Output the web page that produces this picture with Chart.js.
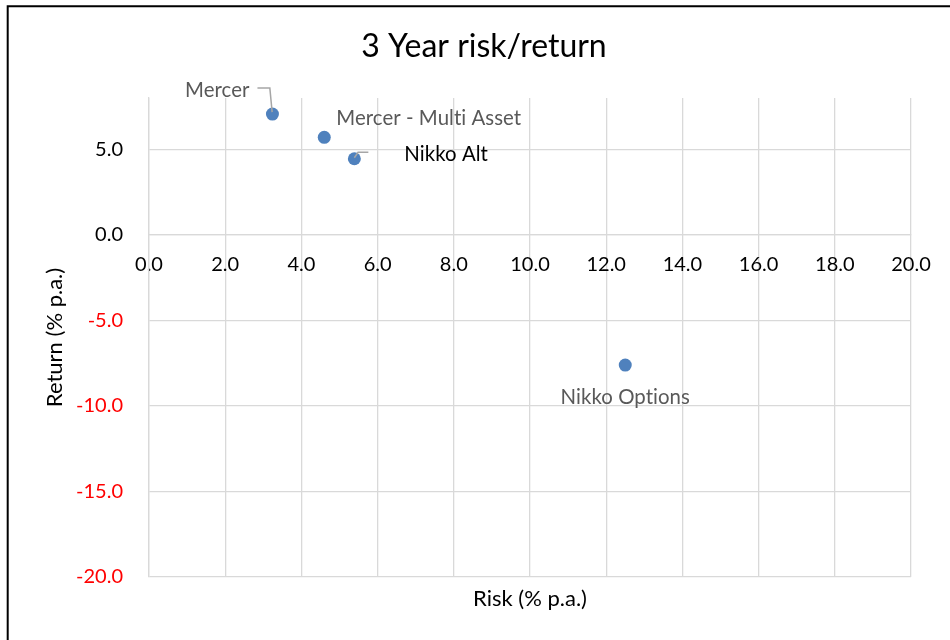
<!DOCTYPE html>
<html><head><meta charset="utf-8">
<script src="https://cdn.jsdelivr.net/npm/chart.js@4.4.0/dist/chart.umd.min.js"></script>
<style>html,body{margin:0;padding:0;background:#fff;}#wrap{width:950px;height:640px;position:relative;}</style>
</head><body><div id="wrap"><canvas id="c" width="950" height="640"></canvas></div>
<script>
// ---- data ----
const fundNames = ['Mercer', 'Mercer - Multi Asset', 'Nikko Alt', 'Nikko Options'];
const riskValues = [3.24, 4.60, 5.39, 12.50];
const returnValues = [7.06, 5.70, 4.45, -7.61];
const chartTitle = '3 Year risk/return';
const xAxisTitle = 'Risk (% p.a.)';
const yAxisTitle = 'Return (% p.a.)';
const xMin = 0, xMax = 20, xStep = 2;
const yMin = -20, yMax = 8, yStep = 5;

// ---- label styles (offsets in px from the point) ----
const labelStyles = [
  {dx: -23, dy: -24, align: 'right', color: '#595959', leader: [[-15, -26], [-2.6, -26], [-0.3, -2]]},
  {dx: 12, dy: -19, align: 'left', color: '#595959'},
  {dx: 50, dy: -4.7, align: 'left', color: '#000000', leader: [[0, -1], [3.7, -6.4], [14, -6.4]]},
  {dx: 0, dy: 32, align: 'center', color: '#595959'}
];

const FONT = 'Lato';
const GRID = '#d9d9d9';

const framePlugin = {
  id: 'frame',
  beforeDraw(chart) {
    const ctx = chart.ctx;
    ctx.save();
    ctx.fillStyle = '#fff';
    ctx.fillRect(0, 0, chart.width, chart.height);
    ctx.strokeStyle = '#000';
    ctx.lineWidth = 2;
    ctx.beginPath();
    ctx.moveTo(6.7, 6.3); ctx.lineTo(chart.width, 6.3);
    ctx.moveTo(7.7, 5.3); ctx.lineTo(7.7, chart.height);
    ctx.stroke();
    ctx.restore();
  },
  afterDraw(chart) {
    const ctx = chart.ctx;
    ctx.save();
    ctx.font = '32px ' + FONT;
    ctx.fillStyle = '#000';
    ctx.textAlign = 'center';
    ctx.textBaseline = 'middle';
    ctx.fillText(chartTitle, 484, 47);
    ctx.restore();
  }
};

const labelPlugin = {
  id: 'pointLabels',
  afterDatasetsDraw(chart) {
    const ctx = chart.ctx;
    const meta = chart.getDatasetMeta(0);
    ctx.save();
    meta.data.forEach((el, i) => {
      const p = el.getProps(['x', 'y'], true);
      const st = labelStyles[i];
      if (st.leader) {
        ctx.strokeStyle = '#a6a6a6';
        ctx.lineWidth = 1.5;
        ctx.beginPath();
        st.leader.forEach((q, k) => {
          if (k === 0) ctx.moveTo(p.x + q[0], p.y + q[1]);
          else ctx.lineTo(p.x + q[0], p.y + q[1]);
        });
        ctx.stroke();
      }
      ctx.font = '20.4px ' + FONT;
      if ('letterSpacing' in ctx) ctx.letterSpacing = '0.05px';
      ctx.fillStyle = st.color;
      ctx.textAlign = st.align;
      ctx.textBaseline = 'middle';
      ctx.fillText(fundNames[i], p.x + st.dx, p.y + st.dy);
    });
    ctx.restore();
  }
};

new Chart(document.getElementById('c'), {
  type: 'scatter',
  data: {
    datasets: [{
      data: riskValues.map((v, i) => ({x: v, y: returnValues[i]})),
      backgroundColor: '#4f81bd',
      borderColor: '#4f81bd',
      pointRadius: 6.5,
      pointHoverRadius: 6.5,
      borderWidth: 0
    }]
  },
  options: {
    responsive: false,
    animation: false,
    devicePixelRatio: 1,
    layout: {padding: {left: 37.8, right: 39, top: 98, bottom: 23.8}},
    plugins: {
      legend: {display: false},
      tooltip: {enabled: false},
      title: {display: false}
    },
    scales: {
      x: {
        type: 'linear',
        min: xMin, max: xMax,
        position: {y: 0},
        grid: {color: GRID, lineWidth: 1.3, drawTicks: false},
        border: {color: GRID, width: 1.3},
        ticks: {
          stepSize: xStep,
          padding: 18,
          color: '#000',
          font: {family: FONT, size: 20},
          callback: v => Number(v).toFixed(1)
        }
      },
      xTitleAxis: {
        type: 'linear',
        axis: 'x',
        position: 'bottom',
        min: xMin, max: xMax,
        grid: {display: false, drawTicks: false},
        border: {display: false},
        ticks: {display: false},
        title: {
          display: true, text: xAxisTitle, color: '#000',
          font: {family: FONT, size: 22, lineHeight: 1.2},
          padding: {top: 8.8, bottom: 4}
        }
      },
      y: {
        type: 'linear',
        min: yMin, max: yMax,
        position: 'left',
        grid: {color: GRID, lineWidth: 1.3, drawTicks: false},
        border: {color: GRID, width: 1.3},
        afterFit: s => { s.width = 111.2; },
        ticks: {
          stepSize: yStep,
          includeBounds: false,
          padding: 26,
          color: c => (c.tick && c.tick.value < 0) ? '#ff0000' : '#000',
          font: {family: FONT, size: 20},
          callback: v => Number(v).toFixed(1)
        },
        title: {
          display: true, text: yAxisTitle, color: '#000',
          font: {family: FONT, size: 22, lineHeight: 1.2},
          padding: {top: 4, bottom: 4}
        }
      }
    }
  },
  plugins: [framePlugin, labelPlugin]
});
</script></body></html>
